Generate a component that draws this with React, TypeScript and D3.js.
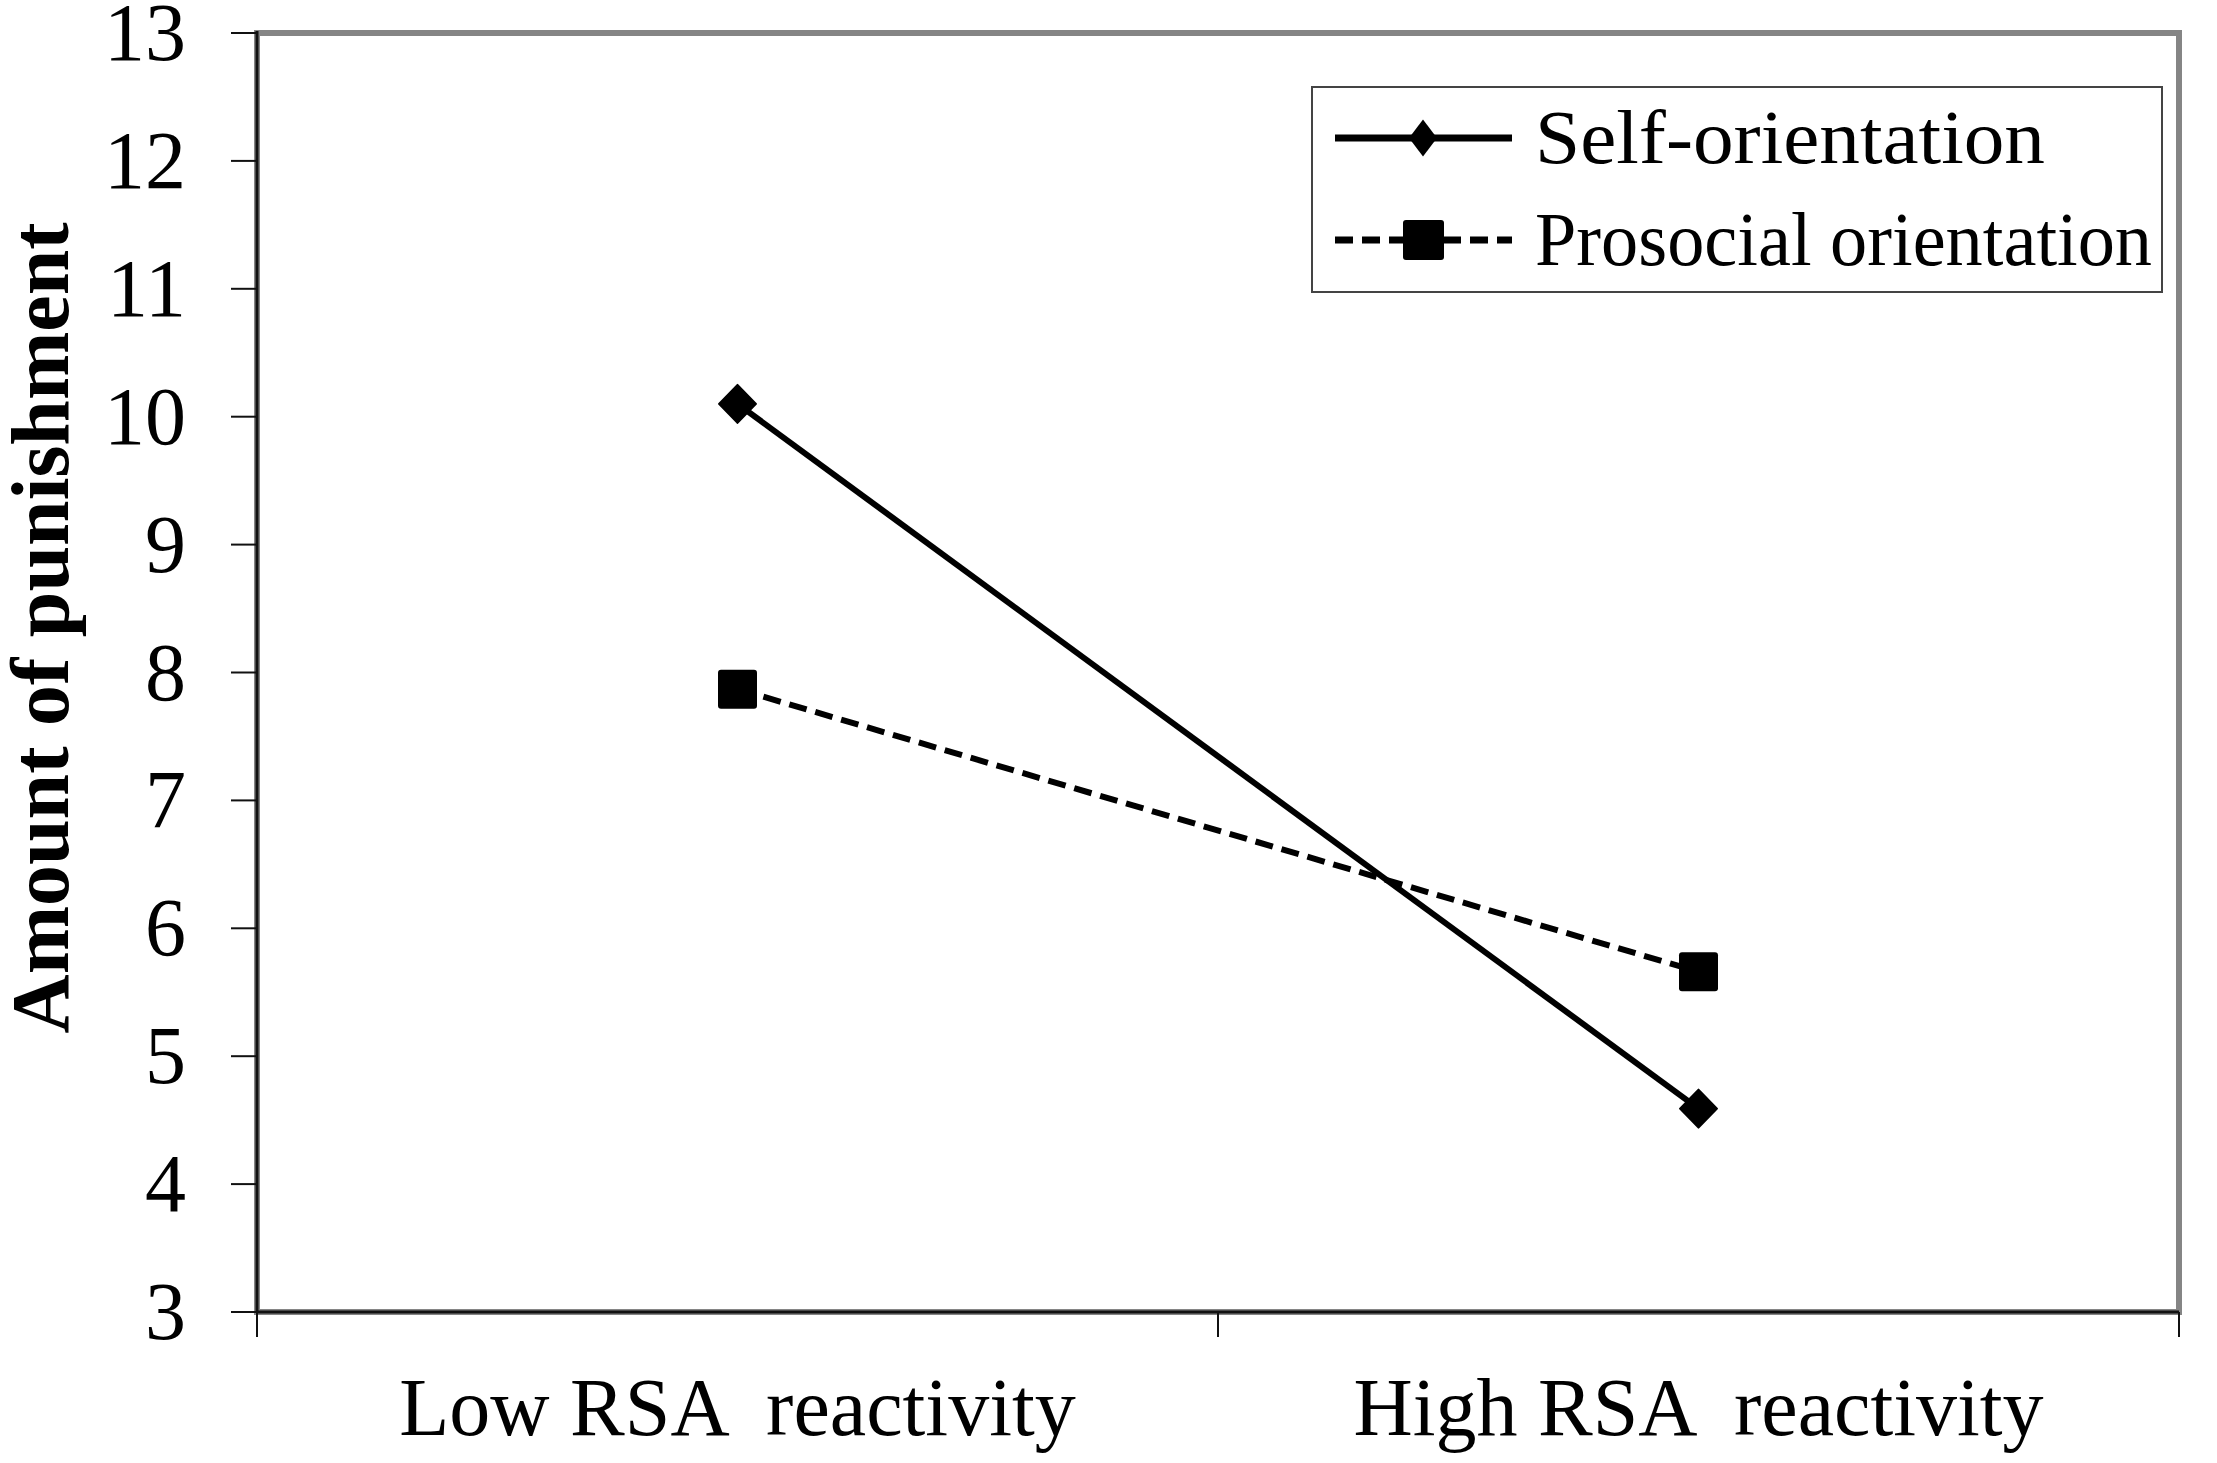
import React from "react";
import * as d3 from "d3";

const categories = ["Low RSA  reactivity", "High RSA  reactivity"];
const selfOrientation = [10.1, 4.59];
const prosocialOrientation = [7.87, 5.66];
const yTicks = [3, 4, 5, 6, 7, 8, 9, 10, 11, 12, 13];
const seriesNames = ["Self-orientation", "Prosocial orientation"];
const yTitle = "Amount of punishment";

const W = 2217;
const H = 1463;
const left = 257;
const right = 2179;
const top = 33;
const bottom = 1312;
const serif = "'Liberation Serif', 'Times New Roman', serif";

export default function App() {
  const x = d3.scaleBand<string>().domain(categories).range([left, right]).padding(0);
  const y = d3.scaleLinear().domain([3, 13]).range([bottom, top]);
  const cx = (c: string) => (x(c) as number) + x.bandwidth() / 2;

  const line = d3
    .line<[string, number]>()
    .x((d) => cx(d[0]))
    .y((d) => y(d[1]));

  const selfPts: [string, number][] = categories.map((c, i) => [c, selfOrientation[i]]);
  const proPts: [string, number][] = categories.map((c, i) => [c, prosocialOrientation[i]]);

  const xEdges = [left, ...categories.map((c) => (x(c) as number) + x.bandwidth())];

  const diamond = (px: number, py: number, hw: number, hh: number) =>
    `${px},${py - hh} ${px + hw},${py} ${px},${py + hh} ${px - hw},${py}`;

  return (
    <svg
      width={W}
      height={H}
      viewBox={`0 0 ${W} ${H}`}
      style={{ position: "absolute", left: 0, top: 0, background: "#fff" }}
    >
      <rect x={0} y={0} width={W} height={H} fill="#fff" />
      {/* plot frame */}
      <rect
        x={left}
        y={top}
        width={right - left}
        height={bottom - top}
        fill="none"
        stroke="#858585"
        strokeWidth={6}
      />
      {/* axes */}
      <line x1={left} x2={left} y1={top - 2} y2={bottom} stroke="#111" strokeWidth={3} />
      <line x1={left} x2={right} y1={bottom} y2={bottom} stroke="#111" strokeWidth={3} />
      {yTicks.map((t) => (
        <g key={t}>
          <line x1={231} x2={left} y1={y(t)} y2={y(t)} stroke="#111" strokeWidth={2} />
          <text
            x={186}
            y={y(t) + 27}
            textAnchor="end"
            fontFamily={serif}
            fontSize={82}
            fill="#000"
          >
            {t}
          </text>
        </g>
      ))}
      {xEdges.map((ex, i) => (
        <line key={i} x1={ex} x2={ex} y1={bottom} y2={1337} stroke="#111" strokeWidth={2} />
      ))}
      {categories.map((c) => (
        <text
          key={c}
          x={cx(c)}
          y={1435}
          textAnchor="middle"
          fontFamily={serif}
          fontSize={82}
          fill="#000"
          style={{ whiteSpace: "pre" }}
        >
          {c}
        </text>
      ))}
      <text
        transform={`translate(68, 628) rotate(-90)`}
        textAnchor="middle"
        fontFamily={serif}
        fontWeight="bold"
        fontSize={82}
        fill="#000"
      >
        {yTitle}
      </text>

      {/* series */}
      <path d={line(proPts) || ""} fill="none" stroke="#000" strokeWidth={6} strokeDasharray="18 9" />
      <path d={line(selfPts) || ""} fill="none" stroke="#000" strokeWidth={6} />
      {selfPts.map((d, i) => (
        <polygon
          key={"s" + i}
          points={diamond(cx(d[0]), y(d[1]), 18.5, 19)}
          fill="#000"
          stroke="#000"
          strokeWidth={2}
          strokeLinejoin="round"
        />
      ))}
      {proPts.map((d, i) => (
        <rect
          key={"p" + i}
          x={cx(d[0]) - 19.5}
          y={y(d[1]) - 19.5}
          width={39}
          height={39}
          rx={3}
          fill="#000"
        />
      ))}

      {/* legend */}
      <rect x={1312} y={87} width={850} height={205} fill="#fff" stroke="#444" strokeWidth={2} />
      <line x1={1335} x2={1512} y1={138} y2={138} stroke="#000" strokeWidth={7} />
      <polygon points={diamond(1423, 138, 14, 18.5)} fill="#000" strokeLinejoin="round" />
      <text x={1535} y={163} fontFamily={serif} fontSize={76} fill="#000" textLength={510} lengthAdjust="spacingAndGlyphs">
        {seriesNames[0]}
      </text>
      <line x1={1335} x2={1512} y1={240} y2={240} stroke="#000" strokeWidth={7} strokeDasharray="18 9" />
      <rect x={1403} y={220} width={41} height={40} rx={3} fill="#000" />
      <text x={1535} y={265} fontFamily={serif} fontSize={76} fill="#000" textLength={617} lengthAdjust="spacingAndGlyphs">
        {seriesNames[1]}
      </text>
    </svg>
  );
}
